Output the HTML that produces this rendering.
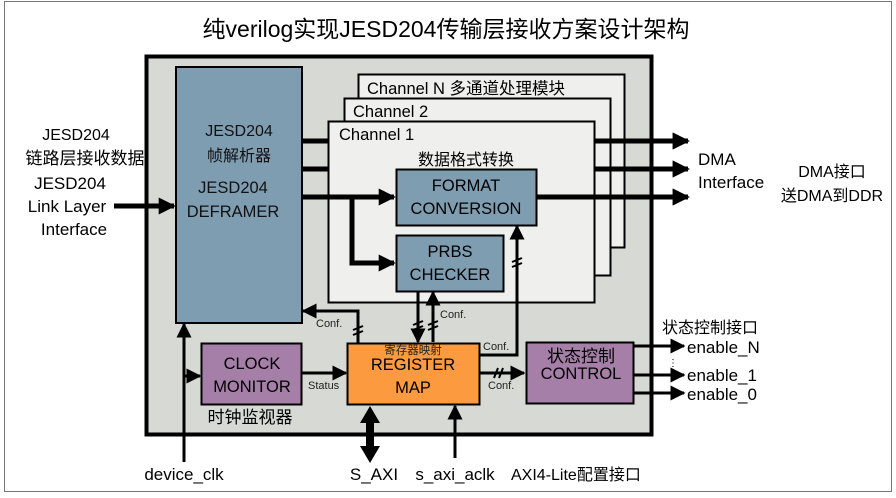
<!DOCTYPE html>
<html><head><meta charset="utf-8"><style>
html,body{margin:0;padding:0;background:#fff}
svg text{font-family:"Liberation Sans","Noto Sans CJK SC",sans-serif}
</style></head><body>
<svg width="896" height="493" viewBox="0 0 896 493" xmlns="http://www.w3.org/2000/svg">
<defs>
<marker id="a" viewBox="0 0 10 10" refX="9" refY="5" markerWidth="3.4" markerHeight="3.4" orient="auto"><path d="M0,0L10,5L0,10z" fill="#000"/></marker>
<marker id="s" viewBox="0 0 10 10" refX="9" refY="5" markerWidth="5" markerHeight="5" orient="auto"><path d="M0,0L10,5L0,10z" fill="#000"/></marker>
</defs>
<rect x="4.5" y="1.5" width="887" height="490" fill="#fff" stroke="#777" stroke-width="1"/>
<text x="446" y="37" font-size="23" text-anchor="middle" fill="#000">纯verilog实现JESD204传输层接收方案设计架构</text>
<rect x="146.5" y="56.5" width="505" height="378" fill="#d7d9d4" stroke="#000" stroke-width="4"/>
<g stroke="#000" stroke-width="5" fill="none">
<line x1="302" y1="141" x2="688" y2="141" marker-end="url(#a)"/>
<line x1="302" y1="169" x2="688" y2="169" marker-end="url(#a)"/>
<line x1="302" y1="197" x2="688" y2="197" marker-end="url(#a)"/>
</g>
<rect x="358.5" y="74.5" width="266" height="173" fill="#efefed" stroke="#000" stroke-width="2"/>
<rect x="344.5" y="98.5" width="266" height="177" fill="#efefed" stroke="#000" stroke-width="2"/>
<rect x="328.5" y="121.5" width="266" height="181" fill="#efefed" stroke="#000" stroke-width="2"/>
<g stroke="#000" stroke-width="5" fill="none">
<line x1="595" y1="141" x2="688" y2="141" marker-end="url(#a)"/>
<line x1="595" y1="169" x2="688" y2="169" marker-end="url(#a)"/>
<line x1="302" y1="197" x2="394" y2="197" marker-end="url(#a)"/>
<line x1="536" y1="197" x2="688" y2="197" marker-end="url(#a)"/>
<polyline points="352,197 352,263 394,263" marker-end="url(#a)"/>
<line x1="302" y1="141" x2="328" y2="141"/>
<line x1="302" y1="169" x2="328" y2="169"/>
</g>
<text x="367" y="94" font-size="16.5">Channel N  多通道处理模块</text>
<text x="353" y="117" font-size="16.5">Channel 2</text>
<text x="339" y="140" font-size="16.5">Channel 1</text>
<text x="466" y="165" font-size="16" text-anchor="middle">数据格式转换</text>
<rect x="176" y="67" width="126" height="256" fill="#7f9db1" stroke="#000" stroke-width="2"/>
<g font-size="16" text-anchor="middle" fill="#111">
<text x="239" y="136">JESD204</text>
<text x="239" y="161">帧解析器</text>
<text x="233" y="193" font-size="16.5">JESD204</text>
<text x="233" y="217" font-size="16.5">DEFRAMER</text>
</g>
<rect x="396.5" y="169.5" width="140" height="56" fill="#7f9db1" stroke="#000" stroke-width="2"/>
<text x="466" y="191" font-size="16.5" text-anchor="middle">FORMAT</text>
<text x="466" y="214" font-size="16.5" text-anchor="middle">CONVERSION</text>
<rect x="396.5" y="235.5" width="107" height="56" fill="#7f9db1" stroke="#000" stroke-width="2"/>
<text x="450" y="257" font-size="16.5" text-anchor="middle">PRBS</text>
<text x="450" y="280" font-size="16.5" text-anchor="middle">CHECKER</text>
<text x="76" y="140" font-size="16" text-anchor="middle">JESD204</text>
<text x="85" y="164" font-size="17" text-anchor="middle">链路层接收数据</text>
<text x="70" y="189" font-size="17" text-anchor="middle">JESD204</text>
<text x="67" y="212" font-size="17" text-anchor="middle">Link Layer</text>
<text x="74" y="235" font-size="17" text-anchor="middle">Interface</text>
<line x1="114" y1="206" x2="174" y2="206" stroke="#000" stroke-width="5" marker-end="url(#a)"/>
<text x="698" y="165" font-size="17">DMA</text>
<text x="698" y="188" font-size="17">Interface</text>
<text x="832" y="177" font-size="16" text-anchor="middle">DMA接口</text>
<text x="832" y="201" font-size="16" text-anchor="middle">送DMA到DDR</text>
<g stroke="#000" stroke-width="3" fill="none">
<polyline points="358,343 358,311 303,311" marker-end="url(#s)"/>
<line x1="418" y1="292" x2="418" y2="342" marker-end="url(#s)"/>
<line x1="433" y1="342" x2="433" y2="292" marker-end="url(#s)"/>
<polyline points="480,355 517,355 517,226" marker-end="url(#s)"/>
<line x1="480" y1="373" x2="524" y2="373" marker-end="url(#s)"/>
<line x1="302" y1="373" x2="346" y2="373" marker-end="url(#s)"/>
<line x1="184" y1="462" x2="184" y2="324" marker-end="url(#s)"/>
<line x1="184" y1="376" x2="200" y2="376" marker-end="url(#s)"/>
<line x1="455" y1="458" x2="455" y2="406" marker-end="url(#s)"/>
<line x1="634" y1="346" x2="684" y2="346" marker-end="url(#s)"/>
<line x1="634" y1="375" x2="684" y2="375" marker-end="url(#s)"/>
<line x1="634" y1="393" x2="684" y2="393" marker-end="url(#s)"/>
</g>
<g stroke="#000" stroke-width="2">
<line x1="353" y1="330" x2="363" y2="326"/><line x1="353" y1="335" x2="363" y2="331"/>
<line x1="413" y1="325" x2="423" y2="321"/><line x1="413" y1="330" x2="423" y2="326"/>
<line x1="428" y1="325" x2="438" y2="321"/><line x1="428" y1="330" x2="438" y2="326"/>
<line x1="512" y1="262" x2="522" y2="258"/><line x1="512" y1="267" x2="522" y2="263"/>
<line x1="494" y1="378" x2="498" y2="368"/><line x1="499" y1="378" x2="503" y2="368"/>
</g>
<path d="M370,406 L380,423 L374,423 L374,446 L380,446 L370,463 L360,446 L366,446 L366,423 L360,423 Z" fill="#000"/>
<g font-size="11" fill="#222">
<text x="316" y="327">Conf.</text>
<text x="440" y="318">Conf.</text>
<text x="483" y="350">Conf.</text>
<text x="488" y="389">Conf.</text>
<text x="308" y="389">Status</text>
</g>
<rect x="201.5" y="343.5" width="100" height="61" fill="#a57fa8" stroke="#000" stroke-width="2"/>
<text x="252" y="369" font-size="16.5" text-anchor="middle">CLOCK</text>
<text x="252" y="392" font-size="16.5" text-anchor="middle">MONITOR</text>
<text x="250" y="423" font-size="17" text-anchor="middle">时钟监视器</text>
<rect x="347.5" y="343.5" width="132" height="61" fill="#fb9a3e" stroke="#000" stroke-width="2"/>
<text x="413" y="354" font-size="11.5" text-anchor="middle" fill="#222">寄存器映射</text>
<text x="413" y="370" font-size="16.5" text-anchor="middle">REGISTER</text>
<text x="413" y="393" font-size="16.5" text-anchor="middle">MAP</text>
<rect x="526.5" y="342.5" width="107" height="61" fill="#a57fa8" stroke="#000" stroke-width="2"/>
<text x="581" y="362" font-size="17" text-anchor="middle">状态控制</text>
<text x="581" y="379" font-size="16.5" text-anchor="middle">CONTROL</text>
<text x="662" y="333" font-size="16">状态控制接口</text>
<text x="687" y="353" font-size="17">enable_N</text>
<text x="668" y="366" font-size="10">⋮</text>
<text x="687" y="381" font-size="17">enable_1</text>
<text x="687" y="400" font-size="17">enable_0</text>
<text x="184" y="480" font-size="17" text-anchor="middle">device_clk</text>
<text x="374" y="480" font-size="17" text-anchor="middle">S_AXI</text>
<text x="455" y="480" font-size="17" text-anchor="middle">s_axi_aclk</text>
<text x="511" y="480" font-size="16">AXI4-Lite配置接口</text>
</svg>
</body></html>
